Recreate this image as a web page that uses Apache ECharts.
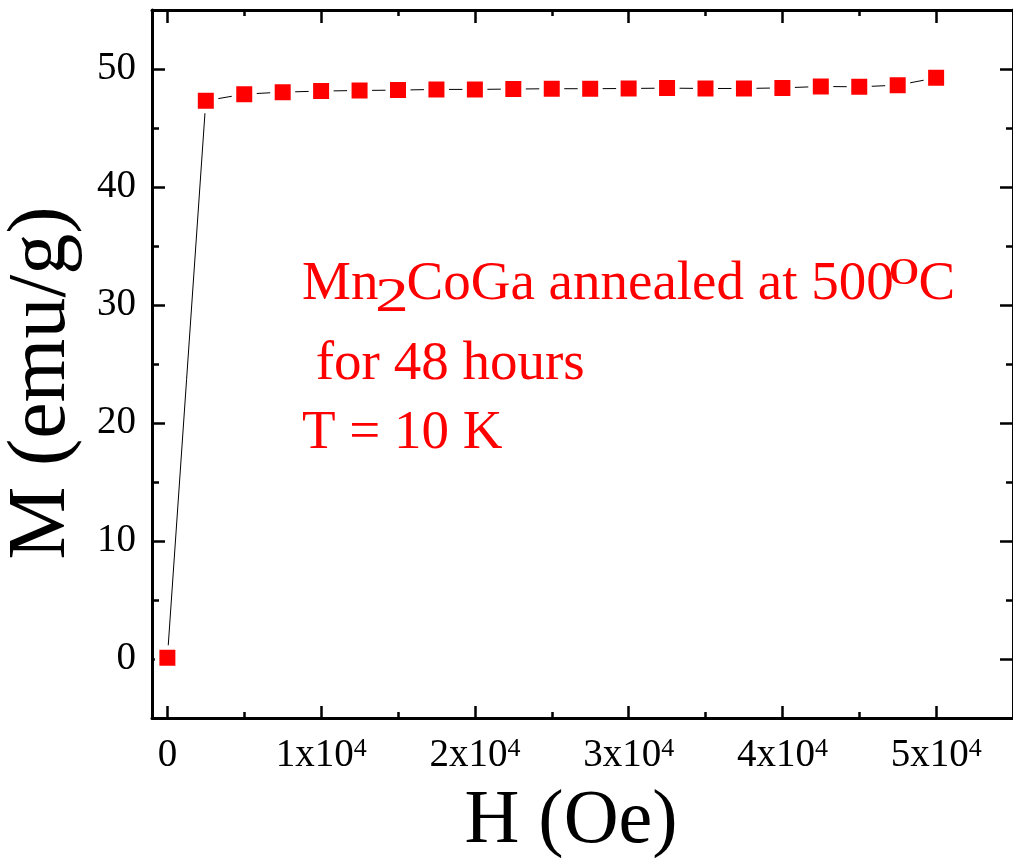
<!DOCTYPE html>
<html>
<head>
<meta charset="utf-8">
<title>Mn2CoGa M–H curve at 10 K</title>
<script src="https://cdn.jsdelivr.net/npm/echarts@6/dist/echarts.min.js"></script>
<style>
  html, body { margin: 0; padding: 0; background: #ffffff; }
  #chart { width: 1013px; height: 865px; }
</style>
</head>
<body>
<div id="chart"></div>
<script>
// Applied field H (Oe) and magnetisation M (emu/g)
const fieldOe = [0, 2500, 5000, 7500, 10000, 12500, 15000, 17500, 20000, 22500,
                 25000, 27500, 30000, 32500, 35000, 37500, 40000, 42500, 45000, 47500, 50000];
const magnetisation = [0.1, 47.31, 47.87, 48.04, 48.13, 48.18, 48.21, 48.27, 48.27, 48.30,
                       48.33, 48.33, 48.35, 48.38, 48.35, 48.35, 48.40, 48.52, 48.49, 48.63, 49.25];

// Tick positions and labels
const xMajorTicks = [0, 10000, 20000, 30000, 40000, 50000];
const xMinorTicks = [5000, 15000, 25000, 35000, 45000];
const xTickMantissa = ['0', '1x10', '2x10', '3x10', '4x10', '5x10'];
const xTickExponent = ['', '4', '4', '4', '4', '4'];
const yMajorTicks = [0, 10, 20, 30, 40, 50];
const yMinorTicks = [5, 15, 25, 35, 45];
const yTickLabels = ['0', '10', '20', '30', '40', '50'];

const FONT = '"Liberation Serif", "Times New Roman", serif';
const RED = '#ff0000';

const chart = echarts.init(document.getElementById('chart'), null, { renderer: 'canvas' });

const xRange = { min: -1000, max: 55000 };
const yRange = { min: -5, max: 55 };

// One framed axis side: a line (optional), inward ticks at given values, optional labels
function axisDef(range, position, ticks, len, showLine, label) {
  return {
    type: 'value', position: position, min: range.min, max: range.max,
    axisLine: { show: showLine, onZero: false, lineStyle: { color: '#000', width: 3 } },
    axisTick: { show: true, inside: true, length: len, customValues: ticks, lineStyle: { color: '#000', width: 2.5 } },
    axisLabel: label || { show: false },
    splitLine: { show: false }
  };
}

const xLabel = {
  show: true, customValues: xMajorTicks, margin: 18, color: '#000',
  fontFamily: FONT, fontSize: 39,
  formatter: function (v) {
    const i = xMajorTicks.indexOf(v);
    if (i < 0) return '';
    return xTickExponent[i]
      ? '{m|' + xTickMantissa[i] + '}{s|' + xTickExponent[i] + '}'
      : '{m|' + xTickMantissa[i] + '}';
  },
  rich: {
    m: { fontFamily: FONT, fontSize: 39, lineHeight: 40, color: '#000' },
    s: { fontFamily: FONT, fontSize: 26, lineHeight: 20, verticalAlign: 'top', color: '#000' }
  }
};

const yLabel = {
  show: true, customValues: yMajorTicks, margin: 16, color: '#000',
  fontFamily: FONT, fontSize: 39,
  formatter: function (v) {
    const i = yMajorTicks.indexOf(v);
    return i < 0 ? '' : yTickLabels[i];
  }
};

// Plain red text piece; (x, y) is the anchor, baseline sits about 0.34em below y
function redText(str, x, y, size, scaleX) {
  return {
    type: 'text', x: x, y: y, scaleX: scaleX || 1,
    style: { text: str, x: 0, y: 0, font: size + 'px ' + FONT, fill: RED, textAlign: 'left', textVerticalAlign: 'middle' }
  };
}

const option = {
  animation: false,
  backgroundColor: '#ffffff',
  grid: { left: 152, top: 10, width: 869, height: 708, containLabel: false },
  xAxis: [
    axisDef(xRange, 'bottom', xMajorTicks, 12, true, xLabel),
    axisDef(xRange, 'bottom', xMinorTicks, 6, false),
    axisDef(xRange, 'top', xMajorTicks, 13, true),
    axisDef(xRange, 'top', xMinorTicks, 6, false)
  ],
  yAxis: [
    axisDef(yRange, 'left', yMajorTicks, 13, true, yLabel),
    axisDef(yRange, 'left', yMinorTicks, 7, false),
    axisDef(yRange, 'right', yMajorTicks, 13, true),
    axisDef(yRange, 'right', yMinorTicks, 7, false)
  ],
  series: [{
    type: 'line',
    xAxisIndex: 0,
    yAxisIndex: 0,
    data: fieldOe.map(function (h, i) { return [h, magnetisation[i]]; }),
    symbol: 'rect',
    symbolSize: 20.5,
    showAllSymbol: true,
    itemStyle: { color: RED, borderColor: '#ffffff', borderWidth: 4.5 },
    lineStyle: { color: '#000', width: 1 },
    emphasis: { disabled: true },
    z: 3
  }],
  graphic: [
    // axis titles
    {
      type: 'text', x: 42, y: 383, rotation: Math.PI / 2,
      style: { text: 'M (emu/g)', font: '82px ' + FONT, fill: '#000', textAlign: 'center', textVerticalAlign: 'middle' }
    },
    {
      type: 'text', x: 571, y: 822,
      style: { text: 'H (Oe)', font: '76px ' + FONT, fill: '#000', textAlign: 'center', textVerticalAlign: 'middle' }
    },
    // sample annotation, first line built from pieces for the subscript and superscript
    redText('Mn', 302, 284.4, 55),
    redText('2', 375, 298.5, 49, 1.38),
    redText('CoGa annealed at 500', 406.5, 284.4, 55),
    redText('0', 888.5, 274.5, 37, 1.68),
    redText('C', 918.5, 284.4, 55),
    redText(' for 48 hours', 302, 364.4, 55),
    redText('T = 10 K', 302, 433.4, 55)
  ]
};

chart.setOption(option);
</script>
</body>
</html>
